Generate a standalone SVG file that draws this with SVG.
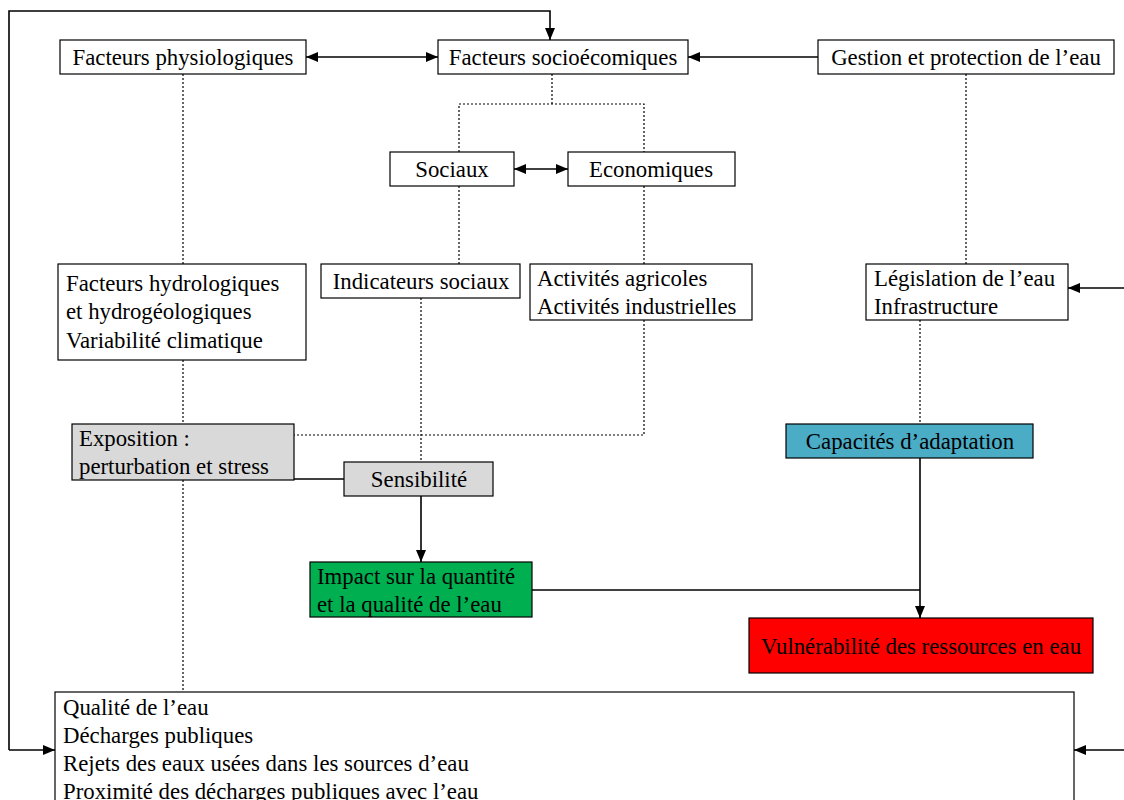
<svg xmlns="http://www.w3.org/2000/svg" width="1124" height="800" viewBox="0 0 1124 800">
<defs>
<marker id="ah" viewBox="0 0 12 10" refX="12" refY="5" markerWidth="12" markerHeight="10" markerUnits="userSpaceOnUse" orient="auto-start-reverse">
<path d="M0,0 L12,5 L0,10 z" fill="#000"/>
</marker>
</defs>
<style>
.box{fill:#fff;stroke:#000;stroke-width:1.2}
.t{font-family:"Liberation Serif","Times New Roman",serif;font-size:22.8px;fill:#000}
.c{text-anchor:middle}
.solid{fill:none;stroke:#000;stroke-width:1.6}
.dot{fill:none;stroke:#000;stroke-width:1.2;stroke-dasharray:2,2}
</style>
<rect width="1124" height="800" fill="#fff"/>
<g id="connectors">
<polyline class="solid" points="9,750 9,11 550,11 550,40" marker-end="url(#ah)"/>
<line class="solid" x1="9" y1="750" x2="55" y2="750" marker-end="url(#ah)"/>
<line class="solid" x1="306" y1="57" x2="438" y2="57" marker-start="url(#ah)" marker-end="url(#ah)"/>
<line class="solid" x1="818" y1="57" x2="688" y2="57" marker-end="url(#ah)"/>
<line class="solid" x1="514" y1="169" x2="568" y2="169" marker-start="url(#ah)" marker-end="url(#ah)"/>
<line class="solid" x1="1124" y1="288" x2="1068" y2="288" marker-end="url(#ah)"/>
<line class="solid" x1="1124" y1="750" x2="1074" y2="750" marker-end="url(#ah)"/>
<line class="dot" x1="183" y1="74" x2="183" y2="264"/>
<line class="dot" x1="183" y1="360" x2="183" y2="424"/>
<line class="dot" x1="183" y1="480" x2="183" y2="692"/>
<polyline class="dot" points="552,74 552,104"/>
<polyline class="dot" points="459,152 459,104 644,104 644,152"/>
<line class="dot" x1="459" y1="186" x2="459" y2="264"/>
<line class="dot" x1="644" y1="186" x2="644" y2="264"/>
<polyline class="dot" points="644,320 644,435 294,435"/>
<line class="dot" x1="421" y1="298" x2="421" y2="462"/>
<line class="dot" x1="966" y1="74" x2="966" y2="264"/>
<line class="dot" x1="920" y1="320" x2="920" y2="424"/>
<line class="solid" x1="294" y1="479" x2="344" y2="479"/>
<line class="solid" x1="421" y1="496" x2="421" y2="562" marker-end="url(#ah)"/>
<line class="solid" x1="532" y1="590" x2="920" y2="590"/>
<line class="solid" x1="920" y1="458" x2="920" y2="618" marker-end="url(#ah)"/>
</g>
<g id="n-physio"><rect class="box" x="60" y="40" width="246" height="34"/><text class="t c" x="183" y="65">Facteurs physiologiques</text></g>
<g id="n-socio"><rect class="box" x="438" y="40" width="250" height="34"/><text class="t c" x="563" y="65">Facteurs socioécomiques</text></g>
<g id="n-gestion"><rect class="box" x="818" y="40" width="296" height="34"/><text class="t c" x="966" y="65">Gestion et protection de l’eau</text></g>
<g id="n-sociaux"><rect class="box" x="390" y="152" width="124" height="34"/><text class="t c" x="452" y="177">Sociaux</text></g>
<g id="n-eco"><rect class="box" x="568" y="152" width="167" height="34"/><text class="t c" x="651" y="177">Economiques</text></g>
<g id="n-hydro"><rect class="box" x="58" y="264" width="248" height="96"/><text class="t" x="66" y="291">Facteurs hydrologiques</text><text class="t" x="66" y="319">et hydrogéologiques</text><text class="t" x="66" y="348">Variabilité climatique</text></g>
<g id="n-indic"><rect class="box" x="321" y="264" width="199" height="34"/><text class="t c" x="421" y="289">Indicateurs sociaux</text></g>
<g id="n-activ"><rect class="box" x="530" y="264" width="222" height="56"/><text class="t" x="537" y="286">Activités agricoles</text><text class="t" x="537" y="314">Activités industrielles</text></g>
<g id="n-legis"><rect class="box" x="866" y="264" width="202" height="56"/><text class="t" x="874" y="286">Législation de l’eau</text><text class="t" x="874" y="314">Infrastructure</text></g>
<g id="n-expo"><rect class="box" x="72" y="424" width="222" height="56" style="fill:#d9d9d9"/><text class="t" x="79" y="446">Exposition :</text><text class="t" x="79" y="474">perturbation et stress</text></g>
<g id="n-sensi"><rect class="box" x="344" y="462" width="149" height="34" style="fill:#d9d9d9"/><text class="t c" x="419" y="487">Sensibilité</text></g>
<g id="n-capa"><rect class="box" x="786" y="424" width="247" height="34" style="fill:#4bacc6"/><text class="t c" x="910" y="449">Capacités d’adaptation</text></g>
<g id="n-impact"><rect class="box" x="310" y="562" width="222" height="55" style="fill:#00b050"/><text class="t" x="317" y="584">Impact sur la quantité</text><text class="t" x="317" y="612">et la qualité de l’eau</text></g>
<g id="n-vuln"><rect class="box" x="749" y="618" width="344" height="55" style="fill:#ff0000"/><text class="t c" x="921" y="654">Vulnérabilité des ressources en eau</text></g>
<g id="n-qualite"><rect class="box" x="55" y="692" width="1019" height="130"/><text class="t" x="63" y="715">Qualité de l’eau</text><text class="t" x="63" y="743">Décharges publiques</text><text class="t" x="63" y="771">Rejets des eaux usées dans les sources d’eau</text><text class="t" x="63" y="799">Proximité des décharges publiques avec l’eau</text></g>
</svg>
